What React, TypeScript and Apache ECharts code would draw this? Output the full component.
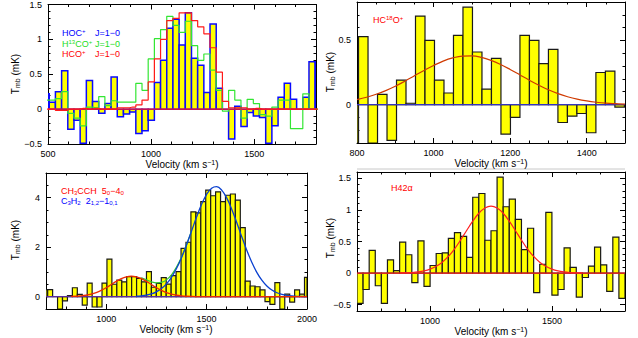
import React, { useEffect, useRef } from 'react';
import * as echarts from 'echarts';

const FONT = "'Liberation Sans', Arial, Helvetica, sans-serif";

// ---------- Panel 1 : HOC+, H13CO+, HCO+ J=1-0 ----------
const p1X: [number, number] = [500, 1800];
const p1Y: [number, number] = [-0.5, 1.5];
const p1XTicks = [500, 1000, 1500];
const p1YTicks = [-0.5, 0, 0.5, 1, 1.5];
const p1Start = 491; // first channel centre (km/s)
const p1Chan = 30; // channel width (km/s)
const p1HOC = [0.22, 0.10, 0.25, 0.55, -0.29, -0.16, -0.49, 0.41, 0.11, -0.06, 0.08, 0.46, -0.11, -0.07, -0.04, -0.35, -0.31, -0.16, 0.38, 0.70, 1.16, 1.29, 0.92, 1.38, 0.73, 0.63, 0.24, 1.22, 0.30, 0.0, -0.43, 0.04, -0.25, -0.05, -0.10, -0.12, -0.49, -0.24, 0.17, 0.37, 0.14, 0.0, 0.17, 0.68, 0.68];
const p1H13CO = [0.13, 0.13, 0.15, 0.25, -0.06, -0.13, -0.24, 0.03, 0.02, 0.18, 0.05, 0.12, 0.10, 0.10, 0.10, 0.37, 0.27, 0.72, 1.01, 1.14, 1.33, 1.20, 1.10, 1.26, 0.91, 0.70, 0.79, 0.56, 0.27, -0.03, 0.27, 0.13, -0.13, 0.14, 0.08, -0.08, -0.10, 0.03, 0.13, 0.13, -0.28, -0.28, 0.22, 0.0, 0.0];
const p1HCO = [0, 0, -0.02, -0.02, 0, 0, 0.01, 0, 0.01, 0, 0, 0, 0.02, 0.02, 0.03, 0.06, 0.13, 0.39, 0.72, 1.0, 1.27, 1.30, 1.38, 1.38, 1.27, 1.18, 1.08, 0.88, 0.53, 0.11, 0.02, 0.02, 0.02, 0, 0.01, 0, 0, 0, 0, 0, 0, 0, 0, 0, 0];

// ---------- Panel 2 : HC18O+ ----------
const p2X: [number, number] = [800, 1500];
const p2Y: [number, number] = [-0.3, 0.8];
const p2XTicks = [800, 1000, 1200, 1400];
const p2YTicks = [0, 0.5];
const p2Start = 791.6;
const p2Chan = 24.8;
const p2HC18O = [-0.35, 0.53, -0.40, 0.08, -0.28, 0.19, 0.01, 0.69, 0.50, 0.19, 0.09, 0.54, 0.76, 0.41, 0.12, 0.36, -0.23, -0.10, 0.54, 0.50, 0.32, 0.43, -0.14, -0.09, -0.07, -0.22, 0.25, 0.26, -0.02];
const p2FitV = [800, 825, 850, 875, 900, 925, 950, 975, 1000, 1025, 1050, 1075, 1100, 1125, 1150, 1175, 1200, 1225, 1250, 1275, 1300, 1325, 1350, 1375, 1400, 1425, 1450, 1475, 1500];
const p2FitT = [0.039, 0.057, 0.080, 0.109, 0.143, 0.182, 0.224, 0.266, 0.305, 0.339, 0.364, 0.378, 0.379, 0.368, 0.345, 0.313, 0.274, 0.232, 0.190, 0.151, 0.115, 0.085, 0.061, 0.042, 0.028, 0.018, 0.011, 0.007, 0.004];

// ---------- Panel 3 : CH3CCH 5-4 and C3H2 ----------
const p3X: [number, number] = [700, 2000];
const p3Y: [number, number] = [-0.5, 5];
const p3XTicks = [1000, 1500, 2000];
const p3YTicks = [0, 2, 4];
const p3Start = 696.1;
const p3Chan = 24.6;
const p3Spec = [0.28, 0.28, 0.0, -0.5, -0.17, 0.04, 0.36, 0.09, -0.34, 0.55, -0.42, -0.42, 0.55, 1.52, 0.50, 0.67, 0.60, 0.81, 0.81, 0.74, 0.60, 1.01, 0.38, 0.54, 0.77, 0.51, 0.85, 1.01, 1.95, 2.20, 3.43, 3.39, 3.84, 4.31, 4.08, 4.24, 3.84, 4.10, 4.15, 3.90, 2.79, 0.63, 0.43, 0.40, 0.27, -0.20, -0.31, 0.57, -0.50, 0.10, -0.22, 0.27, 0.10, 0.78];
const p3RedV = [825, 850, 875, 900, 925, 950, 975, 1000, 1025, 1050, 1075, 1100, 1125, 1150, 1175, 1200, 1225, 1250, 1275, 1300, 1325, 1350, 1375, 1400, 1425, 1450, 1475];
const p3RedT = [0.007, 0.015, 0.03, 0.056, 0.099, 0.163, 0.251, 0.362, 0.488, 0.616, 0.727, 0.803, 0.83, 0.803, 0.727, 0.616, 0.488, 0.362, 0.251, 0.163, 0.099, 0.056, 0.03, 0.015, 0.007, 0.003, 0.001];
const p3RedTailV = [1475, 2000];
const p3RedTailT = [0.001, 0];
const p3BlueV = [1150, 1175, 1200, 1225, 1250, 1275, 1300, 1325, 1350, 1375, 1400, 1425, 1450, 1475, 1500, 1525, 1550, 1575, 1600, 1625, 1650, 1675, 1700, 1725, 1750, 1775, 1800, 1825, 1850, 1875, 1900, 1925, 1950, 1975, 2000];
const p3BlueT = [0.016, 0.033, 0.062, 0.11, 0.195, 0.325, 0.515, 0.783, 1.136, 1.577, 2.092, 2.653, 3.218, 3.732, 4.138, 4.386, 4.446, 4.309, 3.992, 3.536, 2.995, 2.425, 1.878, 1.39, 0.983, 0.665, 0.431, 0.266, 0.157, 0.089, 0.048, 0.025, 0.012, 0.006, 0.002];
const p3SumV = [1175, 1200, 1225, 1250, 1275, 1300, 1325, 1350, 1375, 1400, 1425];
const p3SumT = [0.76, 0.678, 0.60, 0.557, 0.576, 0.678, 0.882, 1.192, 1.607, 2.107, 2.66];

// ---------- Panel 4 : H42alpha ----------
const p4X: [number, number] = [700, 1800];
const p4Y: [number, number] = [-0.6, 1.6];
const p4XTicks = [1000, 1500];
const p4YTicks = [-0.5, 0, 0.5, 1, 1.5];
const p4Start = 712.5;
const p4Chan = 25;
const p4H42a = [-0.48, -0.26, 0.36, -0.20, -0.48, 0.21, 0.04, 0.49, 0.29, -0.15, 0.51, -0.21, 0.12, 0.31, 0.32, 0.55, 0.64, 0.58, 0.25, 1.20, 1.26, 0.52, 0.67, 1.52, 1.05, 1.17, 0.85, 0.37, 0.71, -0.31, 0.14, 0.96, -0.35, -0.26, 0.40, 0.09, -0.38, -0.07, 0.11, 0.41, 0.13, -0.29, 0.57, -0.40];
const p4FitV = [875, 900, 925, 950, 975, 1000, 1025, 1050, 1075, 1100, 1125, 1150, 1175, 1200, 1225, 1250, 1275, 1300, 1325, 1350, 1375, 1400, 1425, 1450, 1475, 1500, 1525, 1550, 1575, 1600, 1625];
const p4FitT = [0.002, 0.004, 0.009, 0.018, 0.034, 0.062, 0.107, 0.173, 0.264, 0.38, 0.522, 0.674, 0.821, 0.947, 1.03, 1.06, 1.03, 0.947, 0.821, 0.674, 0.522, 0.38, 0.264, 0.173, 0.107, 0.062, 0.034, 0.018, 0.009, 0.004, 0.002];

const fmt = (v: number) => String(v).replace('-', '\u2212');

function xAxes(g: number, r: [number, number], majors: number[], minor: number) {
  const base: any = { type: 'value', gridIndex: g, min: r[0], max: r[1], splitLine: { show: false } };
  const line = { show: true, onZero: false, lineStyle: { color: '#000', width: 1 } };
  const tickMaj = { show: true, inside: true, length: 5, customValues: majors, lineStyle: { color: '#000', width: 1 } };
  const tickMin = { show: true, inside: true, length: 2.5, lineStyle: { color: '#000', width: 1 } };
  return [
    { ...base, position: 'bottom', axisLine: line, axisTick: tickMaj,
      axisLabel: { show: true, customValues: majors, margin: 5, fontSize: 9, fontFamily: FONT, color: '#000', formatter: fmt } },
    { ...base, position: 'bottom', interval: minor, axisLine: { show: false, onZero: false }, axisTick: tickMin, axisLabel: { show: false } },
    { ...base, position: 'top', axisLine: line, axisTick: tickMaj, axisLabel: { show: false } },
    { ...base, position: 'top', interval: minor, axisLine: { show: false, onZero: false }, axisTick: tickMin, axisLabel: { show: false } },
  ];
}

function yAxes(g: number, r: [number, number], majors: number[], minor: number) {
  const base: any = { type: 'value', gridIndex: g, min: r[0], max: r[1], splitLine: { show: false } };
  const line = { show: true, onZero: false, lineStyle: { color: '#000', width: 1 } };
  const tickMaj = { show: true, inside: true, length: 5, customValues: majors, lineStyle: { color: '#000', width: 1 } };
  const tickMin = { show: true, inside: true, length: 2.5, lineStyle: { color: '#000', width: 1 } };
  return [
    { ...base, position: 'left', axisLine: line, axisTick: tickMaj,
      axisLabel: { show: true, customValues: majors, margin: 6, fontSize: 9, fontFamily: FONT, color: '#000', formatter: fmt } },
    { ...base, position: 'left', interval: minor, axisLine: { show: false, onZero: false }, axisTick: tickMin, axisLabel: { show: false } },
    { ...base, position: 'right', axisLine: line, axisTick: tickMaj, axisLabel: { show: false } },
    { ...base, position: 'right', interval: minor, axisLine: { show: false, onZero: false }, axisTick: tickMin, axisLabel: { show: false } },
  ];
}

function bars(g: number, start: number, chan: number, vals: number[], xr: [number, number], yr: [number, number], stroke: string, lw: number) {
  return {
    type: 'custom', xAxisIndex: 4 * g, yAxisIndex: 4 * g, clip: true,
    data: vals.map((v, i) => [start + i * chan, v]),
    encode: { x: 0, y: 1 },
    renderItem: (_p: any, api: any) => {
      const c = api.value(0);
      const v = api.value(1);
      const x0 = Math.max(c - chan / 2, xr[0]);
      const x1 = Math.min(c + chan / 2, xr[1]);
      const vv = Math.min(Math.max(v, yr[0]), yr[1]);
      const a = api.coord([x0, vv]);
      const b = api.coord([x1, 0]);
      return {
        type: 'rect',
        shape: { x: a[0], y: Math.min(a[1], b[1]), width: b[0] - a[0], height: Math.abs(b[1] - a[1]) },
        style: { fill: '#ffff00', stroke, lineWidth: lw },
      };
    },
  };
}

function stepLine(g: number, start: number, chan: number, vals: number[], color: string, w: number) {
  const pts: number[][] = [[start - chan / 2, vals[0]]];
  vals.forEach((v, i) => pts.push([start + i * chan, v]));
  pts.push([start + (vals.length - 1) * chan + chan / 2, vals[vals.length - 1]]);
  return {
    type: 'line', step: 'middle', xAxisIndex: 4 * g, yAxisIndex: 4 * g, data: pts,
    symbol: 'none', showSymbol: false, clip: true, lineStyle: { color, width: w },
  };
}

function curve(g: number, xs: number[], ys: number[], color: string, w: number, smooth: any = 0.4) {
  return {
    type: 'line', xAxisIndex: 4 * g, yAxisIndex: 4 * g, data: xs.map((x, i) => [x, ys[i]]),
    symbol: 'none', showSymbol: false, clip: true, smooth, lineStyle: { color, width: w },
  };
}

function rich(color: string, size: number) {
  const small = Math.round(size * 0.68);
  return {
    n: { fontSize: size, fill: color, fontFamily: FONT, lineHeight: size + 1 },
    sup: { fontSize: small, fill: color, fontFamily: FONT, verticalAlign: 'top', lineHeight: small },
    sub: { fontSize: small, fill: color, fontFamily: FONT, verticalAlign: 'bottom', lineHeight: small },
  };
}

function label(x: number, y: number, text: string, color: string, size = 9, extra: any = {}, align = 'left') {
  return {
    type: 'text', x, y, z: 100, ...extra,
    style: { text, fill: color, fontSize: size, fontFamily: FONT, align, verticalAlign: 'middle', lineHeight: size + 1, rich: rich(color, size) },
  };
}

const yName = '{n|T}{sub|mb}{n| (mK)}';
const xName = '{n|Velocity (km s}{sup|\u22121}{n|)}';

export default function App() {
  const ref = useRef<HTMLDivElement>(null);
  useEffect(() => {
    if (!ref.current) return;
    const chart = echarts.init(ref.current, null, { renderer: 'svg' });
    const grids = [
      { left: 48, top: 4, width: 268, height: 140 },
      { left: 357, top: 2, width: 268, height: 141 },
      { left: 46, top: 173, width: 261, height: 136 },
      { left: 357, top: 172, width: 268, height: 139 },
    ];
    const option: any = {
      animation: false,
      backgroundColor: '#ffffff',
      grid: grids.map((g) => ({ ...g, containLabel: false })),
      xAxis: [
        ...xAxes(0, p1X, p1XTicks, 100),
        ...xAxes(1, p2X, p2XTicks, 50),
        ...xAxes(2, p3X, p3XTicks, 100),
        ...xAxes(3, p4X, p4XTicks, 100),
      ],
      yAxis: [
        ...yAxes(0, p1Y, p1YTicks, 0.1),
        ...yAxes(1, p2Y, p2YTicks, 0.1),
        ...yAxes(2, p3Y, p3YTicks, 0.5),
        ...yAxes(3, p4Y, p4YTicks, 0.1),
      ],
      series: [
        // panel 1
        bars(0, p1Start, p1Chan, p1HOC, p1X, p1Y, '#0a0aff', 1.5),
        stepLine(0, p1Start, p1Chan, p1H13CO, '#33e633', 1.2),
        stepLine(0, p1Start, p1Chan, p1HCO, '#ff1a1a', 1.2),
        curve(0, [p1X[0], p1X[1]], [0, 0], '#ff1a1a', 1.3, false),
        // panel 2
        bars(1, p2Start, p2Chan, p2HC18O, p2X, p2Y, '#1a1a1a', 1.2),
        curve(1, [p2X[0], p2X[1]], [0, 0], '#3333c0', 1.3, false),
        curve(1, p2FitV, p2FitT, '#d03a00', 1.2),
        // panel 3
        bars(2, p3Start, p3Chan, p3Spec, p3X, p3Y, '#1a1a1a', 1.2),
        curve(2, [p3X[0], p3X[1]], [0, 0], '#5a2da0', 1.4, false),
        curve(2, p3SumV, p3SumT, '#33cc33', 1.2),
        curve(2, p3BlueV, p3BlueT, '#0a40d0', 1.3),
        curve(2, p3RedV, p3RedT, '#ee2a00', 1.3),
        curve(2, p3RedTailV, p3RedTailT, '#ee2a00', 1.3, false),
        // panel 4
        bars(3, p4Start, p4Chan, p4H42a, p4X, p4Y, '#1a1a1a', 1.2),
        curve(3, [p4X[0], p4X[1]], [0, 0], '#ff2020', 1.3, false),
        curve(3, p4FitV, p4FitT, '#ff2020', 1.2),
      ],
      graphic: [
        // legends
        label(62, 33, '{n|HOC}{sup|+}', '#0000ff'),
        label(95, 33, '{n|J=1\u22120}', '#0000ff'),
        label(62, 44, '{n|H}{sup|13}{n|CO}{sup|+}', '#22dd22'),
        label(95, 44, '{n|J=1\u22120}', '#22dd22'),
        label(62, 54, '{n|HCO}{sup|+}', '#ff0000'),
        label(95, 54, '{n|J=1\u22120}', '#ff0000'),
        label(373, 20, '{n|HC}{sup|18}{n|O}{sup|+}', '#ff0000'),
        label(61, 191, '{n|CH}{sub|3}{n|CCH  5}{sub|0}{n|\u22124}{sub|0}', '#ff0000'),
        label(61, 201, '{n|C}{sub|3}{n|H}{sub|2}{n|  2}{sub|1,2}{n|\u22121}{sub|0,1}', '#0000ff'),
        label(391, 188, '{n|H42\u03b1}', '#ff0000'),
        // axis titles
        label(15, 74, yName, '#000', 10, { rotation: Math.PI / 2 }, 'center'),
        label(330, 72, yName, '#000', 10, { rotation: Math.PI / 2 }, 'center'),
        label(15, 240, yName, '#000', 10, { rotation: Math.PI / 2 }, 'center'),
        label(330, 238, yName, '#000', 10, { rotation: Math.PI / 2 }, 'center'),
        label(182, 164.5, xName, '#000', 10, {}, 'center'),
        label(491, 163, xName, '#000', 10, {}, 'center'),
        label(176, 329, xName, '#000', 10, {}, 'center'),
        label(491, 331, xName, '#000', 10, {}, 'center'),
        { type: 'line', shape: { x1: 357, y1: 169, x2: 625, y2: 169 }, style: { stroke: '#c8c8c8', lineWidth: 1 } },
      ],
    };
    chart.setOption(option);
    return () => chart.dispose();
  }, []);
  return <div ref={ref} style={{ position: 'absolute', left: 0, top: 0, width: 638, height: 338 }} />;
}
